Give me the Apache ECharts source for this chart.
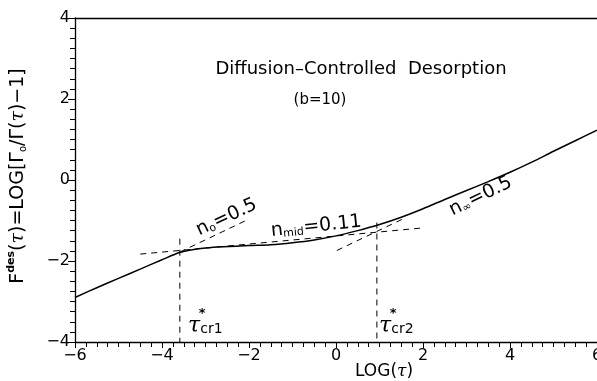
<!DOCTYPE html>
<html><head><meta charset="utf-8">
<script src="https://cdn.jsdelivr.net/npm/echarts@6/dist/echarts.min.js"></script>
<style>html,body{margin:0;padding:0;background:#fff}#c{width:597px;height:381px}</style>
</head><body><div id="c"></div>
<script>
// Main curve: LOG(tau) vs F_des
const curveX = [-6, -5.5, -5, -4.5, -4, -3.6, -3.3, -3.0, -2.6, -2.0, -1.5, -1.0, -0.5, 0, 0.5, 1.0, 1.5, 2.0, 2.5, 3.0, 3.5, 4.0, 4.5, 5.0, 5.5, 6.0];
const curveY = [-2.9, -2.66, -2.43, -2.2, -1.97, -1.79, -1.72, -1.68, -1.65, -1.62, -1.60, -1.55, -1.48, -1.38, -1.25, -1.10, -0.92, -0.71, -0.48, -0.26, -0.04, 0.19, 0.44, 0.71, 0.97, 1.23];
// Tangent (dashed) lines
const tanN0X = [-3.59, -2.05];   const tanN0Y = [-1.78, -0.99];
const tanMidX = [-4.5, 1.93];    const tanMidY = [-1.83, -1.19];
const tanInfX = [0.02, 1.6];     const tanInfY = [-1.74, -0.93];
// Critical times (vertical dashed)
const cr1X = [-3.59, -3.59];     const cr1Y = [-1.45, -4];
const cr2X = [0.94, 0.94];       const cr2Y = [-1.05, -4];
const xTickLabels = ['−6', '−4', '−2', '0', '2', '4', '6'];
const yTickLabels = ['−4', '−2', '0', '2', '4'];

function pairs(xs, ys){ return xs.map((x,i)=>[x, ys[i]]); }

const chart = echarts.init(document.getElementById('c'));
const FONT = 'DejaVu Sans';
const dashStyle = {color:'#000', width:1, type:[6,5]};
const option = {
  animation:false,
  backgroundColor:'#fff',
  grid:{left:75, top:18, right:0, bottom:39, containLabel:false, outerBoundsMode:'none'},
  xAxis:[{
    type:'value', min:-6, max:6, interval:2,
    axisLine:{onZero:false, lineStyle:{color:'#000', width:1.3}},
    axisTick:{show:true, inside:false, length:6, lineStyle:{color:'#000'}},
    minorTick:{show:true, splitNumber:8, length:5, lineStyle:{color:'#000'}},
    splitLine:{show:false},
    axisLabel:{color:'#000', fontSize:16, fontFamily:FONT, margin:6,
      formatter:v=>xTickLabels[Math.round((v+6)/2)]}
  },{
    type:'value', min:-6, max:6, position:'top',
    axisLine:{show:true, onZero:false, lineStyle:{color:'#000', width:1.3}},
    axisTick:{show:false}, axisLabel:{show:false}, splitLine:{show:false}
  }],
  yAxis:{
    type:'value', min:-4, max:4, interval:2,
    axisLine:{onZero:false, lineStyle:{color:'#000', width:1.3}},
    axisTick:{show:true, inside:false, length:7, lineStyle:{color:'#000'}},
    minorTick:{show:true, splitNumber:8, length:5, lineStyle:{color:'#000'}},
    splitLine:{show:false},
    axisLabel:{color:'#000', fontSize:16, fontFamily:FONT, margin:5,
      formatter:v=>yTickLabels[Math.round((v+4)/2)]}
  },
  series:[
    {type:'line', data:pairs(curveX, curveY), smooth:0.3, symbol:'none', lineStyle:{color:'#000', width:1.5}},
    {type:'line', data:pairs(tanN0X, tanN0Y), symbol:'none', lineStyle:dashStyle},
    {type:'line', data:pairs(tanMidX, tanMidY), symbol:'none', lineStyle:dashStyle},
    {type:'line', data:pairs(tanInfX, tanInfY), symbol:'none', lineStyle:dashStyle},
    {type:'line', data:pairs(cr1X, cr1Y), symbol:'none', lineStyle:dashStyle},
    {type:'line', data:pairs(cr2X, cr2Y), symbol:'none', lineStyle:dashStyle}
  ]
};
chart.setOption(option);

function px(x,y){ return chart.convertToPixel({gridIndex:0}, [x,y]); }
const deg = Math.PI/180;
function rtext(x, y, text, rich, rot, fs){
  const p = px(x,y);
  return {type:'text', x:p[0], y:p[1], rotation:rot*deg,
    style:{text:text, rich:rich, fill:'#000', font: fs+'px "'+FONT+'"', align:'center', verticalAlign:'middle'}};
}
const nRich = {
  n:{fontSize:19, fontFamily:FONT, fill:'#000', lineHeight:22, verticalAlign:'bottom'},
  s:{fontSize:11, fontFamily:FONT, fill:'#000', lineHeight:22, verticalAlign:'bottom', padding:[0,0,0,0]},
};
const tauRich = {
  t:{fontSize:22, fontFamily:'DejaVu Serif', fontStyle:'italic', fill:'#000', lineHeight:22, verticalAlign:'bottom'},
  s:{fontSize:14, fontFamily:FONT, fill:'#000', lineHeight:22, verticalAlign:'bottom'}
};
const yRich = {
  a:{fontSize:19, fontFamily:FONT, fill:'#000', lineHeight:22, verticalAlign:'bottom'},
  i:{fontSize:19, fontFamily:'DejaVu Serif', fontStyle:'italic', fill:'#000', lineHeight:22, verticalAlign:'bottom'},
  sup:{fontSize:11, fontFamily:FONT, fontWeight:'bold', fill:'#000', lineHeight:22, verticalAlign:'top'},
  sub:{fontSize:10, fontFamily:FONT, fill:'#000', lineHeight:22, verticalAlign:'bottom'}
};
const g = [];
g.push({type:'text', x:361, y:69, style:{text:'Diffusion–Controlled  Desorption', fill:'#000', font:'18px "'+FONT+'"', align:'center', verticalAlign:'middle'}});
g.push({type:'text', x:320, y:100, style:{text:'(b=10)', fill:'#000', font:'15px "'+FONT+'"', align:'center', verticalAlign:'middle'}});
g.push(rtext(-2.53, -0.89, '{n|n}{s|o}{n|=0.5}', nRich, 25, 19));
g.push(rtext(-0.46, -1.11, '{n|n}{s|mid}{n|=0.11}', nRich, 6, 19));
g.push(rtext(3.31, -0.37, '{n|n}{s|∞}{n|=0.5}', nRich, 26, 19));
const c1 = px(-3.40, -3.6), c2 = px(0.99, -3.6);
[[c1,'cr1'],[c2,'cr2']].forEach(([p,s])=>{
  g.push({type:'text', x:p[0], y:p[1], style:{text:'{t|τ}{s|'+s+'}', rich:tauRich, align:'left', verticalAlign:'middle'}});
  g.push({type:'text', x:p[0]+14, y:p[1]-12, style:{text:'*', fill:'#000', font:'bold 13px "'+FONT+'"', align:'center', verticalAlign:'middle'}});
});
g.push({type:'text', x:384, y:372, style:{text:'{a|LOG(}{i|τ}{a|)}', rich:{a:{fontSize:17,fontFamily:FONT,fill:'#000'}, i:{fontSize:17,fontFamily:'DejaVu Serif',fontStyle:'italic',fill:'#000'}}, align:'center', verticalAlign:'middle'}});
g.push({type:'text', x:17, y:176, rotation:Math.PI/2, style:{text:'{a|F}{sup|des}{a|(}{i|τ}{a|)=LOG[Γ}{sub|o}{a|/Γ(}{i|τ}{a|)−1]}', rich:yRich, align:'center', verticalAlign:'middle'}});
chart.setOption({graphic:g});
</script></body></html>
